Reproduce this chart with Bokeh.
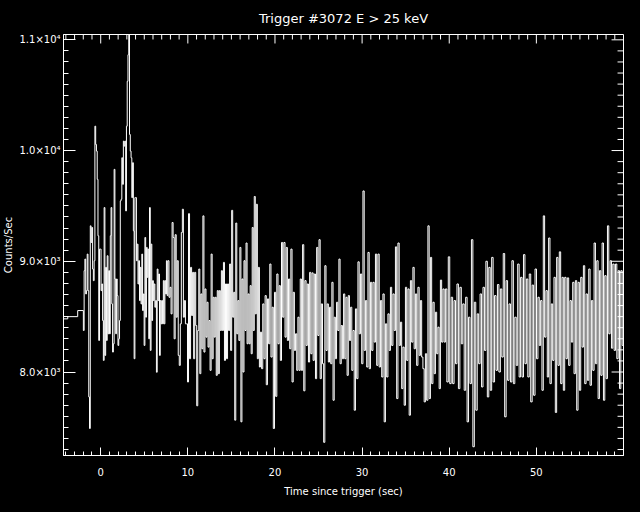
from bokeh.plotting import figure
from bokeh.models import Range1d, FixedTicker
from bokeh.embed import file_html
from bokeh.resources import INLINE
import numpy as np

# Pre-trigger (coarse) bins: edges and count rates
pre_edges = [-4.27, -3.78, -2.64, -1.99]
pre_rates = [8480, 8500, 8555]

# Post-trigger: fine-resolution rates, in six time stretches
seg_edges = [-1.99, 7.72, 18.33, 28.95, 39.56, 50.18, 60.0]

rates_a = [  # -1.99 .. 7.72 s
    8375, 8915, 9020, 8705, 8735, 9065, 8735, 7775, 7490, 9320,
    9170, 9305, 8930, 8825, 9005, 10220, 10055, 9995, 9740, 9230,
    8285, 9110, 9110, 8735, 8795, 8465, 8105, 9485, 8150, 8945,
    8285, 9050, 8345, 8915, 8345, 9230, 9485, 8615, 8180, 8255,
    9830, 8840, 8345, 8840, 8690, 8240, 8300, 8465, 9545, 9560,
    9935, 9695, 10085, 10040, 10085, 9455, 10220, 10625, 10865, 11075,
    10145, 9995, 9935, 9575, 9890, 9275, 8120, 9575, 9575, 9005,
    9155, 8795, 9005, 8645, 8945, 8615, 9065, 8555, 8705, 8240,
    9215, 8495, 9125, 8855, 9110, 8300, 9485, 8195, 9155, 8465,
    8825, 8645, 8795, 8585, 8645, 7998, 8930, 8645, 8885, 8150,
    8645, 8435, 8645, 8435, 8825, 8435, 8825, 8705, 9005, 8690,
]
rates_b = [  # 7.72 .. 18.33 s
    9005, 8675, 8765, 8525, 9350, 9215, 8300, 9240, 8495, 9005,
    8150, 8060, 8435, 9260, 9470, 8495, 8645, 8435, 8435, 7910,
    9430, 8120, 8945, 8510, 8900, 8120, 8900, 8420, 7695, 8375,
    8930, 7985, 8705, 8210, 9410, 8180, 8750, 8315, 8630, 8225,
    8465, 8015, 9065, 8120, 8675, 8315, 8675, 7970, 8735, 7985,
    8735, 8375, 8915, 8375, 8990, 8105, 8795, 8120, 8795, 8375,
    8975, 8195, 9460, 8495, 8720, 7565, 9345, 8345, 8645, 8285,
    9125, 7550, 8840, 8000, 9005, 8375, 9165, 8255, 8705, 8255,
    8780, 8165, 9305, 8375, 9585, 8525, 9515, 8120, 8945, 8045,
]
rates_c = [  # 18.33 .. 28.95 s
    8360, 8030, 8615, 8120, 8690, 7885, 8660, 8255, 8975, 8135,
    8585, 7490, 8720, 7780, 8885, 8255, 8780, 8105, 9170, 8495,
    9170, 8315, 9125, 8285, 8840, 8210, 9110, 7910, 8720, 8195,
    8345, 8015, 8495, 8015, 8840, 8015, 9150, 7830, 8825, 8240,
    8795, 8090, 8900, 8165, 8895, 8105, 8885, 7940, 9125, 8330,
    9195, 7940, 8615, 8075, 7365, 8960, 8195, 8615, 8090, 8585,
    8075, 8810, 7745, 8495, 8120, 8630, 8375, 9020, 8075, 8420,
    8120, 8705, 8120, 8675, 7970, 8690, 8285, 8585, 8015,
]
rates_d = [  # 28.95 .. 39.56 s
    8375, 7655, 8570, 7940, 8995, 8345, 8885, 8075, 9635, 8195,
    8645, 8045, 9080, 8030, 8810, 8195, 8810, 8270, 9065, 8060,
    9065, 8045, 8645, 7955, 8705, 7550, 8435, 7955, 8525, 8195,
    8765, 8240, 8705, 8375, 9130, 7760, 9165, 8240, 8450, 7850,
    8225, 7700, 8765, 8105, 8750, 7610, 8825, 8270, 8945, 8210,
    8705, 8060, 8765, 8150, 8645, 8135, 8030, 7730, 8165, 7745,
    9320, 7760, 9035, 7895, 8630, 7985, 8540, 8165, 8405, 7850,
    8830, 8270, 8750, 8270,
]
rates_e = [  # 39.56 .. 50.18 s
    8750, 7910, 9040, 7895, 8675, 7895, 8645, 8075, 8795, 7850,
    8765, 8255, 8615, 7835, 8675, 7550, 8495, 7895, 9195, 7325,
    8630, 7655, 8525, 8075, 8705, 7865, 8765, 8195, 9000, 7775,
    8945, 7835, 9035, 7910, 8690, 8015, 8790, 8000, 8750, 8135,
    9070, 7595, 8825, 7925, 8615, 7910, 9005, 7895, 8495, 8060,
    8975, 7955, 8855, 7955, 9060, 8075, 8840, 7955, 8885, 7730,
    8785, 7790, 8930, 8120,
]
rates_f = [  # 50.18 .. 60 s
    8675, 8240, 8645, 7835, 9410, 8315, 8735, 7955, 9210, 7895,
    8615, 8105, 8855, 7635, 9035, 8060, 9085, 7895, 8855, 7835,
    8855, 8120, 8850, 8060, 8645, 8270, 8810, 7985, 8825, 7655,
    8810, 7835, 8855, 8225, 8960, 7895, 8705, 7925, 8930, 7880,
    8645, 8015, 9165, 8075, 9005, 7760, 8915, 7970, 9165, 7745,
    8870, 7940, 9320, 8345, 9005, 8215, 8975, 8195, 8975, 8120,
    8915, 7850, 8915, 8240,
]
segments = [rates_a, rates_b, rates_c, rates_d, rates_e, rates_f]

x_ticks = [0, 10, 20, 30, 40, 50]
x_minor = list(range(-4, 61))
y_ticks = [8000, 9000, 10000, 11000]
y_minor = list(range(7300, 11100, 100))
y_tick_labels = {8000: "8.0×10³", 9000: "9.0×10³", 10000: "1.0×10⁴", 11000: "1.1×10⁴"}

title_text = "Trigger #3072 E > 25 keV"
x_label = "Time since trigger (sec)"
y_label = "Counts/Sec"

# ---- layout (pixels) ----
X0, X1 = -4.27, 60.0
Y0, Y1 = 7246, 11048
BL, BR, BT, BB = 60, 1, 33, 49
FW, FH = 563, 422
W, H = BL + FW + BR, BT + FH + BB

# build step arrays (bin start times spread evenly within each stretch)
xs = list(pre_edges[:-1])
ys = list(pre_rates)
for i, seg in enumerate(segments):
    starts = np.linspace(seg_edges[i], seg_edges[i + 1], len(seg) + 1)[:-1]
    xs += list(starts)
    ys += list(seg)
xs.append(seg_edges[-1])
ys.append(segments[-1][-1])

FONT = "DejaVu Sans"
p = figure(width=W, height=H, output_backend="svg", toolbar_location=None,
           x_range=Range1d(X0, X1), y_range=Range1d(Y0, Y1),
           background_fill_color="black", border_fill_color="black",
           min_border_left=BL, min_border_right=BR, min_border_top=BT, min_border_bottom=BB)
p.grid.visible = False
p.outline_line_color = "white"
p.outline_line_width = 1

p.step(xs, ys, mode="after", line_color="white", line_width=1)

# inward ticks on the top and right edges of the box
ux = (X1 - X0) / FW   # data units per pixel (x)
uy = (Y1 - Y0) / FH   # data units per pixel (y)

def right_ticks(vals, length):
    n = len(vals)
    p.segment(x0=[X1 - length * ux] * n, y0=vals, x1=[X1] * n, y1=vals,
              line_color="white", line_width=1)

def top_ticks(vals, length):
    n = len(vals)
    p.segment(x0=vals, y0=[Y1 - length * uy] * n, x1=vals, y1=[Y1] * n,
              line_color="white", line_width=1)

right_ticks(y_ticks, 12)
right_ticks([v for v in y_minor if v not in y_ticks], 6)
top_ticks(x_ticks, 9)
top_ticks([v for v in x_minor if v not in x_ticks], 5)

p.title.text = title_text
p.title.text_color = "white"
p.title.text_font = FONT
p.title.text_font_style = "normal"
p.title.text_font_size = "13px"
p.title.align = "center"
p.title.offset = 0
p.title.standoff = 17

def style(ax, ticker, tin, mtin):
    ax.ticker = ticker
    ax.axis_line_color = "white"
    ax.major_tick_line_color = "white"
    ax.minor_tick_line_color = "white"
    ax.major_tick_in = tin
    ax.major_tick_out = 0
    ax.minor_tick_in = mtin
    ax.minor_tick_out = 0
    ax.major_label_text_color = "white"
    ax.major_label_text_font = FONT
    ax.major_label_text_font_size = "10px"
    ax.axis_label_text_color = "white"
    ax.axis_label_text_font = FONT
    ax.axis_label_text_font_size = "10px"
    ax.axis_label_text_font_style = "normal"

xa = p.xaxis[0]
style(xa, FixedTicker(ticks=x_ticks, minor_ticks=x_minor), 8, 4)
xa.axis_label = x_label
xa.major_label_standoff = 12
xa.axis_label_standoff = 7

ya = p.yaxis[0]
style(ya, FixedTicker(ticks=y_ticks, minor_ticks=y_minor), 12, 5)
ya.axis_label = y_label
ya.major_label_overrides = y_tick_labels
ya.major_label_standoff = 3
ya.axis_label_standoff = 2

html = file_html(p, INLINE)
html = html.replace("</head>", "<style>html,body{background:#000000;}</style></head>", 1)
open("out.html", "w").write(html)
